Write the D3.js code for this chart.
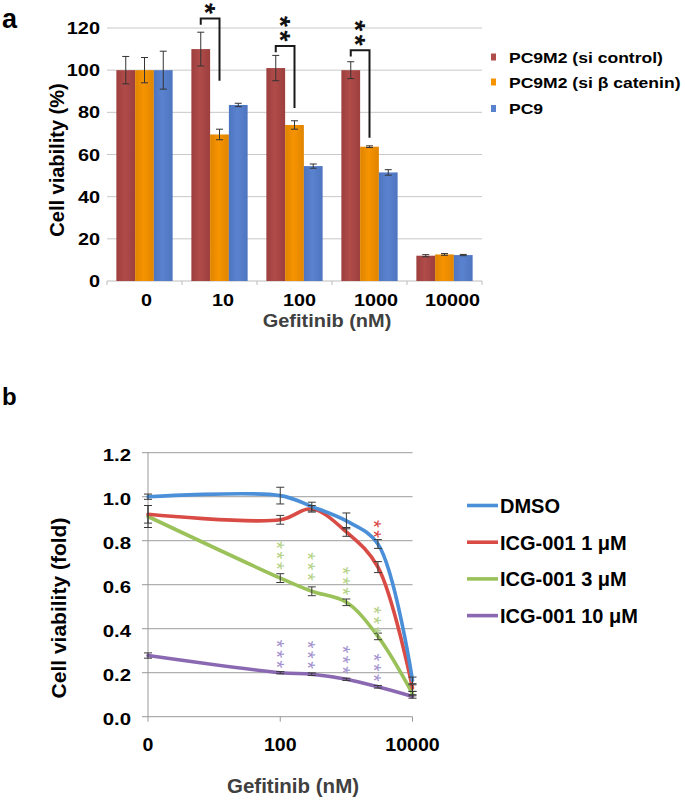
<!DOCTYPE html>
<html><head><meta charset="utf-8">
<script src="https://cdn.jsdelivr.net/npm/d3@7"></script>
<style>body{margin:0;background:#fff}svg{display:block}text{font-family:"Liberation Sans",Arial,Helvetica,sans-serif}</style>
</head><body><svg id="c" width="685" height="801"></svg>
<script>
// ---------- Panel a data ----------
const catsA = ["0", "10", "100", "1000", "10000"];
const seriesA = ["PC9M2 (si control)", "PC9M2 (si β catenin)", "PC9"];
const valsCtrl = [100, 110, 101, 100, 12];
const errCtrl  = [6.5, 8, 6, 4, 0.5];
const valsBcat = [100, 69.5, 74, 63.7, 12.6];
const errBcat  = [6, 2.5, 2, 0.4, 0.4];
const valsPC9  = [100, 83.5, 54.5, 51.5, 12.3];
const errPC9   = [9, 0.8, 1, 1.3, 0.3];
const yTicksA = [0, 20, 40, 60, 80, 100, 120];
const sigCats = ["10", "100", "1000"];
const sigStars = ["*", "**", "**"];
const sigTop = [124.5, 111.5, 109.5];
const sigEnd = [95, 82, 68];

// ---------- Panel b data ----------
const doseB = [1, 100, 300, 1000, 3000, 10000];
const xTickValsB = [1, 100, 10000];
const xTickLabelsB = ["0", "100", "10000"];
const yTicksB = [0, 0.2, 0.4, 0.6, 0.8, 1.0, 1.2];
const seriesB = ["DMSO", "ICG-001 1 μM", "ICG-001 3 μM", "ICG-001 10 μM"];
const dmso   = [1.0, 1.005, 0.955, 0.89, 0.785, 0.165];
const dmsoE  = [0.012, 0.038, 0.02, 0.036, 0.02, 0.015];
const icg1   = [0.92, 0.895, 0.945, 0.84, 0.68, 0.13];
const icg1E  = [0.04, 0.02, 0.015, 0.02, 0.025, 0.015];
const icg3   = [0.91, 0.63, 0.57, 0.52, 0.365, 0.105];
const icg3E  = [0.05, 0.02, 0.02, 0.015, 0.015, 0.01];
const icg10  = [0.278, 0.2, 0.193, 0.17, 0.136, 0.092];
const icg10E = [0.012, 0.005, 0.006, 0.005, 0.006, 0.008];
// significance stars (dose, label, value of lowest star)
const starRedDose = [3000], starRedText = ["**"], starRedBase = [0.83];
const starGreenDose = [100, 300, 1000, 3000], starGreenText = ["***", "***", "***", "***"], starGreenBase = [0.686, 0.636, 0.57, 0.391];
const starPurpleDose = [100, 300, 1000, 3000], starPurpleText = ["***", "***", "***", "***"], starPurpleBase = [0.238, 0.234, 0.212, 0.176];

const svg = d3.select("#c");
function txt(g, x, y, s, o = {}) {
  return g.append("text")
    .attr("transform", `translate(${x},${y})${o.rot ? ` rotate(${o.rot})` : ""} scale(${o.sx || 1},${o.sy || 1})`)
    .attr("text-anchor", o.anchor || "start")
    .attr("font-size", o.size || 16)
    .attr("font-weight", o.weight || "bold")
    .attr("fill", o.fill || "#000")
    .text(s);
}
// vertical stack of asterisks (one text, rotated), lowest star centred at (cx, cyBottom)
function starStack(g, cx, cyBottom, s, step, size, fill, weight) {
  const n = s.length, adv = 0.389 * size, ls = step - adv;
  const top = cyBottom - (n - 1) * step;
  g.append("text")
    .attr("transform", `translate(${cx - 0.575 * size},${top - adv / 2}) rotate(90)`)
    .attr("font-size", size).attr("font-weight", weight).attr("fill", fill)
    .attr("letter-spacing", ls)
    .text(s);
}

// ================= Panel a =================
const gA = svg.append("g");
const xA = d3.scaleBand().domain(catsA).range([107, 482]).paddingInner(0.25).paddingOuter(0.125);
const xS = d3.scaleBand().domain(seriesA).range([0, xA.bandwidth()]);
const yA = d3.scaleLinear().domain([0, 120]).range([281, 28]);
const colA = d3.scaleOrdinal().domain(seriesA).range(["#B04C4A", "#F69300", "#5A83CF"]);
const darkA = d3.scaleOrdinal().domain(seriesA).range(["#9C3F3D", "#E08500", "#4D74BF"]);

txt(gA, 2, 28, "a", {size: 27});

gA.append("g").selectAll("line").data(yTicksA.filter(d => d > 0)).join("line")
  .attr("x1", 107).attr("x2", 482).attr("y1", d => yA(d)).attr("y2", d => yA(d))
  .attr("stroke", "#c8c8c8").attr("stroke-width", 1);
yTicksA.forEach(t => txt(gA, 100, yA(t) + 6, String(t), {size: 17, sx: 1.17, anchor: "end"}));
gA.append("line").attr("x1", 107).attr("x2", 482).attr("y1", yA(0)).attr("y2", yA(0)).attr("stroke", "#bdbdbd");
const boundsA = catsA.map(c => xA(c) - xA.step() * xA.paddingInner() / 2).concat([482]);
gA.append("g").selectAll("line").data(boundsA).join("line")
  .attr("x1", d => d).attr("x2", d => d).attr("y1", yA(0)).attr("y2", yA(0) + 4).attr("stroke", "#bdbdbd");
catsA.forEach((c, i) => txt(gA, xA(c) + xA.bandwidth() / 2 + 2 + i * 1.5, 306, c, {size: 16.5, sx: 1.2, anchor: "middle"}));
txt(gA, 327, 327, "Gefitinib (nM)", {size: 18.5, sx: 1.08, anchor: "middle", fill: "#404040"});
txt(gA, 64, 160, "Cell viability (%)", {size: 20, rot: -90, anchor: "middle"});

const defs = svg.append("defs");
seriesA.forEach((s, i) => {
  const gr = defs.append("linearGradient").attr("id", "gA" + i).attr("x1", 0).attr("x2", 1).attr("y1", 0).attr("y2", 0);
  gr.append("stop").attr("offset", 0).attr("stop-color", darkA(s));
  gr.append("stop").attr("offset", 0.45).attr("stop-color", colA(s));
  gr.append("stop").attr("offset", 1).attr("stop-color", darkA(s));
});

const dataA = [
  {s: seriesA[0], v: valsCtrl, e: errCtrl},
  {s: seriesA[1], v: valsBcat, e: errBcat},
  {s: seriesA[2], v: valsPC9, e: errPC9}
];
dataA.forEach((ser, si) => {
  gA.append("g").selectAll("rect").data(catsA).join("rect")
    .attr("x", c => xA(c) + xS(ser.s)).attr("width", xS.bandwidth())
    .attr("y", (c, i) => yA(ser.v[i])).attr("height", (c, i) => yA(0) - yA(ser.v[i]))
    .attr("fill", `url(#gA${si})`);
});
dataA.forEach(ser => {
  catsA.forEach((c, i) => {
    const cx = xA(c) + xS(ser.s) + xS.bandwidth() / 2;
    const y1 = yA(ser.v[i] + ser.e[i]), y2 = yA(ser.v[i] - ser.e[i]);
    const p = `M${cx},${y1}V${y2}M${cx - 3.5},${y1}H${cx + 3.5}M${cx - 3.5},${y2}H${cx + 3.5}`;
    gA.append("path").attr("d", p).attr("stroke", "#333").attr("stroke-width", 1).attr("fill", "none");
  });
});
sigCats.forEach((c, i) => {
  const xl = xA(c) + xS(seriesA[0]) + xS.bandwidth() / 2;
  const xr = xA(c) + xS(seriesA[1]) + xS.bandwidth() / 2;
  const p = `M${xl},${yA(sigTop[i] - 3)}V${yA(sigTop[i])}H${xr}V${yA(sigEnd[i])}`;
  gA.append("path").attr("d", p).attr("stroke", "#1a1a1a").attr("stroke-width", 2).attr("fill", "none");
  starStack(gA, (xl + xr) / 2 + 1.5, yA(sigTop[i]) - 10, sigStars[i], 14.5, 28, "#111", "bold");
});
seriesA.forEach((s, i) => {
  const cy = [57, 82, 108.5][i];
  gA.append("rect").attr("x", 491).attr("y", cy - 3.5).attr("width", 5).attr("height", 7).attr("fill", colA(s));
  txt(gA, 509, cy + 5.5, s, {size: 15, sx: 1.17});
});

// ================= Panel b =================
const gB = svg.append("g");
const xB = d3.scaleLog().domain([1, 10000]).range([148, 412.5]);
const yB = d3.scaleLinear().domain([0, 1.2]).range([716.7, 452.7]);
const colB = d3.scaleOrdinal().domain(seriesB).range(["#4A8FD7", "#D94C45", "#9BC25A", "#8A69B2"]);

txt(gB, 2, 405, "b", {size: 24});

gB.append("g").selectAll("line").data(yTicksB.filter(d => d > 0)).join("line")
  .attr("x1", 148).attr("x2", 412.5).attr("y1", d => yB(d)).attr("y2", d => yB(d))
  .attr("stroke", "#b0b0b0").attr("stroke-width", 1.2);
gB.append("line").attr("x1", 148).attr("x2", 148).attr("y1", yB(1.2)).attr("y2", yB(0)).attr("stroke", "#999");
gB.append("g").selectAll("line").data(yTicksB).join("line")
  .attr("x1", 142).attr("x2", 148).attr("y1", d => yB(d)).attr("y2", d => yB(d)).attr("stroke", "#999");
gB.append("line").attr("x1", 148).attr("x2", 412.5).attr("y1", yB(0)).attr("y2", yB(0)).attr("stroke", "#999");
gB.append("g").selectAll("line").data(xTickValsB).join("line")
  .attr("x1", d => xB(d)).attr("x2", d => xB(d)).attr("y1", yB(0)).attr("y2", yB(0) + 5).attr("stroke", "#999");
const fmtB = d3.format(".1f");
yTicksB.forEach(t => txt(gB, 131, yB(t) + 8, fmtB(t), {size: 17, sx: 1.2, anchor: "end"}));
xTickValsB.forEach((t, i) => txt(gB, xB(t), 751, xTickLabelsB[i], {size: 17.5, sx: 1.12, anchor: "middle"}));
txt(gB, 293, 793, "Gefitinib (nM)", {size: 20.5, anchor: "middle", fill: "#404040"});
txt(gB, 66, 608, "Cell viability (fold)", {size: 21, rot: -90, anchor: "middle"});

const dataB = [
  {s: seriesB[0], v: dmso, e: dmsoE},
  {s: seriesB[1], v: icg1, e: icg1E},
  {s: seriesB[2], v: icg3, e: icg3E},
  {s: seriesB[3], v: icg10, e: icg10E}
];
const lineB = d3.line().x(d => xB(d[0])).y(d => yB(d[1])).curve(d3.curveCatmullRom.alpha(0.5));
dataB.slice().reverse().forEach(ser => {
  gB.append("path").attr("d", lineB(doseB.map((d, i) => [d, ser.v[i]])))
    .attr("fill", "none").attr("stroke", colB(ser.s)).attr("stroke-width", 3.6).attr("stroke-linecap", "round");
});
dataB.forEach(ser => {
  doseB.forEach((d, i) => {
    const cx = xB(d);
    const y1 = yB(ser.v[i] + ser.e[i]), y2 = yB(ser.v[i] - ser.e[i]);
    const p = `M${cx},${y1}V${y2}M${cx - 4},${y1}H${cx + 4}M${cx - 4},${y2}H${cx + 4}`;
    gB.append("path").attr("d", p).attr("stroke", "#3a3a3a").attr("stroke-width", 1).attr("fill", "none");
  });
});
function starCol(doses, texts, bases, fill) {
  doses.forEach((d, i) => starStack(gB, xB(d) + 1, yB(bases[i]), texts[i], 10.3, 20, fill, "normal"));
}
starCol(starGreenDose, starGreenText, starGreenBase, "#B5D286");
starCol(starPurpleDose, starPurpleText, starPurpleBase, "#A493CF");
starCol(starRedDose, starRedText, starRedBase, "#D9473F");

seriesB.forEach((s, i) => {
  const cy = 505.5 + i * 36.7;
  gB.append("line").attr("x1", 467).attr("x2", 498).attr("y1", cy).attr("y2", cy)
    .attr("stroke", colB(s)).attr("stroke-width", 3.6);
  txt(gB, 500, cy + 7.3, s, {size: 20});
});
</script></body></html>
